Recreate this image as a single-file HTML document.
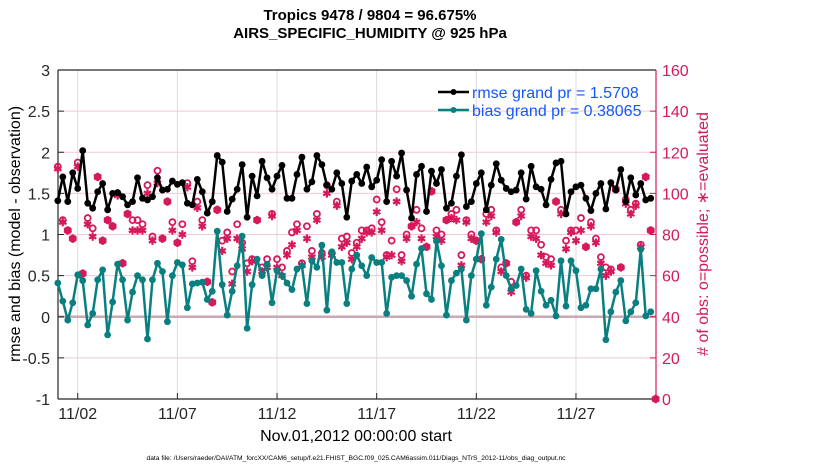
<!DOCTYPE html>
<html><head><meta charset="utf-8"><style>
html,body{margin:0;padding:0;background:#fff;}
svg{display:block;font-family:"Liberation Sans",Arial,sans-serif;}
</style></head><body>
<svg id="chart" width="830" height="470" viewBox="0 0 830 470">
<g id="grid"></g>
<g id="axes"></g>
<g id="series"></g>
<text x="370" y="20" text-anchor="middle" font-size="15" font-weight="bold">Tropics 9478 / 9804 = 96.675%</text>
<text x="370" y="38" text-anchor="middle" font-size="15" font-weight="bold">AIRS_SPECIFIC_HUMIDITY @ 925 hPa</text>
<text transform="translate(20,234) rotate(-90)" text-anchor="middle" font-size="16">rmse and bias (model - observation)</text>
<text transform="translate(708,234) rotate(-90)" text-anchor="middle" font-size="16" fill="#d6195b"># of obs: o=possible; ∗=evaluated</text>
<text x="356" y="441" text-anchor="middle" font-size="16">Nov.01,2012 00:00:00 start</text>
<text x="356" y="460" text-anchor="middle" font-size="6.7">data file: /Users/raeder/DAI/ATM_forcXX/CAM6_setup/f.e21.FHIST_BGC.f09_025.CAM6assim.011/Diags_NTrS_2012-11/obs_diag_output.nc</text>
<g id="legend">
<line x1="438" y1="92" x2="469" y2="92" stroke="#000" stroke-width="2.5"/>
<circle cx="453.5" cy="92" r="3" fill="#000"/>
<text x="472" y="98" font-size="16" fill="#1457ff">rmse grand pr = 1.5708</text>
<line x1="438" y1="110" x2="469" y2="110" stroke="#0a7f7f" stroke-width="2.5"/>
<circle cx="453.5" cy="110" r="3" fill="#0a7f7f"/>
<text x="472" y="116" font-size="16" fill="#1457ff">bias grand pr = 0.38065</text>
</g>
</svg>
<script>
const rmse = [1.41,1.70,1.40,1.75,1.56,2.02,1.38,1.32,1.52,1.62,1.30,1.50,1.51,1.46,1.36,1.40,1.69,1.44,1.42,1.46,1.69,1.54,1.55,1.65,1.61,1.63,1.38,1.36,1.67,1.52,1.26,
1.40,1.96,1.88,1.28,1.43,1.55,1.85,1.21,1.71,1.47,1.89,1.69,1.55,1.71,1.84,1.44,1.44,1.73,1.94,1.55,1.64,1.96,1.85,1.60,1.55,1.75,1.62,1.21,1.65,1.73,
1.62,1.82,1.58,1.66,1.91,1.40,1.89,1.71,1.99,1.54,1.20,1.73,1.83,1.28,1.77,1.62,1.79,1.32,1.38,1.71,1.97,1.34,1.40,1.62,1.75,1.30,1.60,1.86,1.66,1.56,
1.52,1.54,1.75,1.43,1.83,1.58,1.55,1.36,1.67,1.87,1.89,1.25,1.52,1.58,1.60,1.44,1.29,1.50,1.62,1.31,1.63,1.54,1.79,1.40,1.69,1.48,1.62,1.42,1.44,null];
const bias = [0.41,0.19,-0.04,0.17,0.51,0.44,-0.10,0.04,0.45,0.57,-0.22,0.18,0.64,0.45,-0.04,0.30,0.50,0.45,-0.27,0.45,0.65,0.55,-0.06,0.50,0.66,0.63,0.11,0.40,0.41,0.42,0.21,
0.31,1.04,0.39,0.02,0.31,0.62,0.98,-0.14,0.39,0.70,0.50,0.64,0.17,0.56,0.50,0.41,0.33,0.58,0.62,0.16,0.68,0.60,0.87,0.08,0.79,0.66,0.66,0.16,0.58,0.75,
0.62,0.50,0.72,0.66,0.66,0.04,0.48,0.50,0.50,0.44,0.25,0.64,0.83,0.28,0.21,0.92,0.62,0.02,0.44,0.53,0.58,-0.04,0.50,0.70,1.01,0.14,0.36,0.70,0.94,0.50,
0.34,0.38,0.58,0.09,0.04,0.56,0.31,0.14,0.20,0.01,0.68,0.13,0.68,0.56,0.11,0.14,0.34,0.34,0.58,-0.28,0.06,0.30,0.44,-0.05,0.06,0.17,0.82,0.01,0.06,null];
const possible = [113,87,82,78,115,61,88,83,108,77,87,84,100,66,90,87,87,85,104,79,111,78,96,86,76,85,105,67,96,87,57,
47,92,77,81,62,85,76,66,68,87,64,68,90,68,64,72,81,85,66,84,72,90,71,104,71,96,78,79,71,76,
82,82,83,97,86,70,77,102,70,80,84,92,83,74,101,82,80,87,90,92,70,87,80,77,68,90,92,82,64,66,
57,86,92,60,82,82,75,69,68,96,92,77,82,82,88,74,86,78,69,64,63,102,64,97,92,95,75,108,82,0];
const evaluated = [112,86,82,78,113,61,85,79,108,77,87,84,99,66,90,82,82,82,100,77,105,78,96,82,76,80,103,64,93,84,57,
47,92,72,78,56,78,73,62,67,87,62,64,89,64,60,70,75,82,65,78,69,87,69,100,70,94,74,76,68,74,
78,81,81,91,82,69,70,96,67,78,84,86,78,74,101,79,77,87,88,87,65,86,78,77,68,86,89,81,62,66,
52,86,89,59,79,78,70,66,65,96,90,73,81,77,82,74,84,76,66,60,62,102,64,95,90,94,74,108,82,0];
const xTickDays = [1,6,11,16,21,26];
const xTickLabels = ['11/02','11/07','11/12','11/17','11/22','11/27'];
const yTicks = [-1,-0.5,0,0.5,1,1.5,2,2.5,3];
const yTickLabels = ['-1','-0.5','0','0.5','1','1.5','2','2.5','3'];
const y2Ticks = [0,20,40,60,80,100,120,140,160];

const L=58,R=656,T=70,B=399;
const PINK='#d6195b', TEAL='#0a7f7f';
const xDay = d => 57.8 + d*19.93;
const xIdx = i => xDay(i/4);
const yL = v => B - (v+1)/4*(B-T);
const yR = v => B - v/160*(B-T);
const NS='http://www.w3.org/2000/svg';
function mk(tag, attrs, parent){const e=document.createElementNS(NS,tag);for(const k in attrs)e.setAttribute(k,attrs[k]);parent.appendChild(e);return e;}
const grid=document.getElementById('grid'), axes=document.getElementById('axes'), series=document.getElementById('series');

mk('rect',{x:L,y:T,width:R-L,height:B-T,fill:'#fff'},grid);
xTickDays.forEach((d,k)=>{
  const gl=mk('line',{x1:xDay(d),x2:xDay(d),y1:T,y2:B,stroke:'#dcdcdc','stroke-width':1},grid);
  
  
  const tk=mk('line',{x1:xDay(d),x2:xDay(d),y1:B,y2:B-6,stroke:'#262626','stroke-width':1},axes);
  
  
  const t=mk('text',{x:xDay(d),y:B+20,'text-anchor':'middle','font-size':16,fill:'#262626'},axes);
  t.textContent=xTickLabels[k];
  
  
});
y2Ticks.forEach(v=>{
  if(v>0&&v<160){
    const gl=mk('line',{x1:L,x2:R,y1:yR(v),y2:yR(v),stroke:'#f2c9d8','stroke-width':1},grid);
    
    
  }
  const tk=mk('line',{x1:R,x2:R-6,y1:yR(v),y2:yR(v),stroke:PINK,'stroke-width':1},axes);
  
  
  const t=mk('text',{x:R+6,y:yR(v)+6,'font-size':16,fill:PINK},axes);
  t.textContent=String(v);
  
  
});
const zl=mk('line',{x1:L,x2:R,y1:yL(0),y2:yL(0),stroke:'#c9a9b3','stroke-width':2.5},grid);


yTicks.forEach((v,k)=>{
  const tk=mk('line',{x1:L,x2:L+6,y1:yL(v),y2:yL(v),stroke:'#262626','stroke-width':1},axes);
  
  
  const t=mk('text',{x:L-8,y:yL(v)+6,'text-anchor':'end','font-size':16,fill:'#262626'},axes);
  t.textContent=yTickLabels[k];
  
  
});
const la=mk('line',{x1:L,x2:L,y1:T,y2:B,stroke:'#262626','stroke-width':1.2},axes);


const ba=mk('line',{x1:L,x2:R,y1:B,y2:B,stroke:'#262626','stroke-width':1.2},axes);


const ta=mk('line',{x1:L,x2:R,y1:T,y2:T,stroke:'#262626','stroke-width':1.2},axes);


const ra=mk('line',{x1:R,x2:R,y1:T,y2:B,stroke:PINK,'stroke-width':1.2},axes);



possible.forEach((v,i)=>{
  const c=mk('circle',{cx:xIdx(i),cy:yR(v),r:3,fill:'none',stroke:PINK,'stroke-width':1.8},series);
  
  
});
evaluated.forEach((v,i)=>{
  const x=xIdx(i), y=yR(v), s=4.2, h=s*0.866, q=s*0.5;
  const d=`M${x} ${y-s}L${x} ${y+s}M${x-h} ${y-q}L${x+h} ${y+q}M${x-h} ${y+q}L${x+h} ${y-q}`;
  const p=mk('path',{d:d,stroke:PINK,'stroke-width':2.2,fill:'none'},series);
  
  
});
function drawLine(arr,color,name){
  let d='';
  arr.forEach((v,i)=>{ if(v===null)return; d+=(d?'L':'M')+xIdx(i).toFixed(1)+' '+yL(v).toFixed(1); });
  const p=mk('path',{d:d,fill:'none',stroke:color,'stroke-width':2.5,'stroke-linejoin':'round'},series);
  
  
  arr.forEach((v,i)=>{ if(v===null)return;
    const c=mk('circle',{cx:xIdx(i),cy:yL(v),r:3.4,fill:color},series);
    
    
  });
}
drawLine(bias,TEAL,'bias');
drawLine(rmse,'#000','rmse');
</script>
</body></html>
